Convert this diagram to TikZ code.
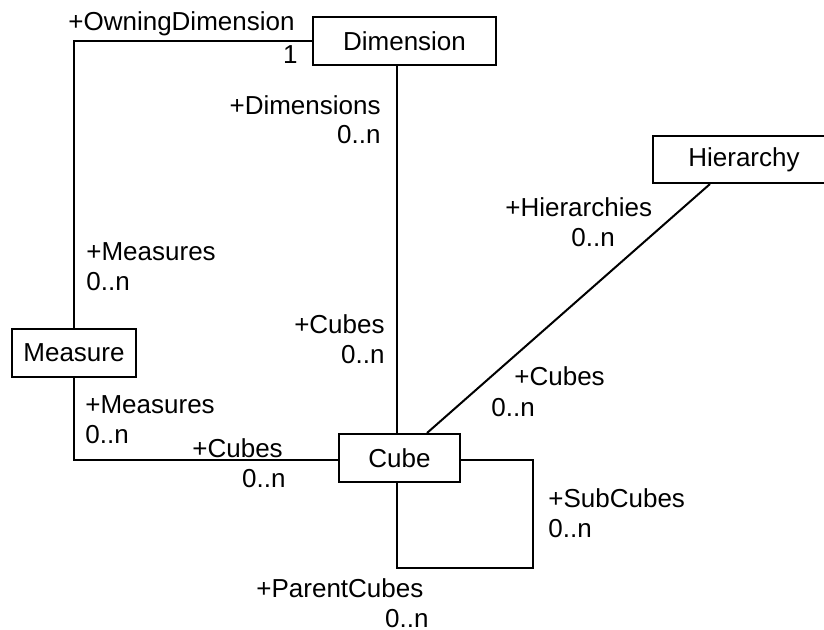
\documentclass[tikz,border=0pt]{standalone}
\usepackage{fontspec}
\setmainfont{Liberation Sans}
\begin{document}
\begin{tikzpicture}[x=0.5pt,y=-0.5pt,
  every node/.style={font=\fontsize{13pt}{15pt}\selectfont},
  cls/.style={draw, line width=1pt, inner sep=0pt, fill=white},
  assoc/.style={line width=1pt},
  lbl/.style={inner sep=0pt}]
\clip (0,0) rectangle (824,630);
\useasboundingbox (0,0) rectangle (824,630);

% classes
\node[cls, minimum width=91.5pt, minimum height=24pt] (dim)  at (404.5,41)  {Dimension};
\node[cls, minimum width=91pt,   minimum height=23.5pt] (hier) at (744,159.5) {Hierarchy};
\node[cls, minimum width=62pt,   minimum height=24pt] (meas) at (74,353)    {Measure};
\node[cls, minimum width=60.5pt, minimum height=24pt] (cube) at (399.5,458) {Cube};

% routing helpers
\coordinate (vx) at (397,0);
\coordinate (hx) at (710,0);
\coordinate (cx) at (427,0);
\coordinate (hy) at (0,460);
\coordinate (lc) at (533,568);

% associations
\draw[assoc] (dim.west) -| (meas.north);
\draw[assoc] (dim.south -| vx) -- (cube.north -| vx);
\draw[assoc] (hier.south -| hx) -- (cube.north -| cx);
\draw[assoc] (meas.south) |- (cube.west |- hy);
\draw[assoc] (cube.east |- hy) -| (lc) -| (cube.south -| vx);

% role names and multiplicities
\node[lbl, anchor=base west] (l1)  at (68,31)   {+OwningDimension};
\node[lbl, anchor=base east] (l2)  at (298,64)  {1};
\node[lbl, anchor=base east] (l3)  at (381,115) {+Dimensions};
\node[lbl, anchor=base east] (l4)  at (381,144) {0..n};
\node[lbl, anchor=base west] (l5)  at (505,217) {+Hierarchies};
\node[lbl, anchor=base west] (l6)  at (571,247) {0..n};
\node[lbl, anchor=base west] (l7)  at (86,261)  {+Measures};
\node[lbl, anchor=base west] (l8)  at (86,291)  {0..n};
\node[lbl, anchor=base east] (l9)  at (385,334) {+Cubes};
\node[lbl, anchor=base east] (l10) at (385,364) {0..n};
\node[lbl, anchor=base west] (l11) at (85,414)  {+Measures};
\node[lbl, anchor=base west] (l12) at (85,444)  {0..n};
\node[lbl, anchor=base west] (l13) at (192,457) {+Cubes};
\node[lbl, anchor=base east] (l14) at (286,487) {0..n};
\node[lbl, anchor=base west] (l15) at (514,386) {+Cubes};
\node[lbl, anchor=base west] (l16) at (491,416) {0..n};
\node[lbl, anchor=base west] (l17) at (548,507) {+SubCubes};
\node[lbl, anchor=base west] (l18) at (548,537) {0..n};
\node[lbl, anchor=base west] (l19) at (256,597) {+ParentCubes};
\node[lbl, anchor=base east] (l20) at (429,627) {0..n};
\end{tikzpicture}
\end{document}
